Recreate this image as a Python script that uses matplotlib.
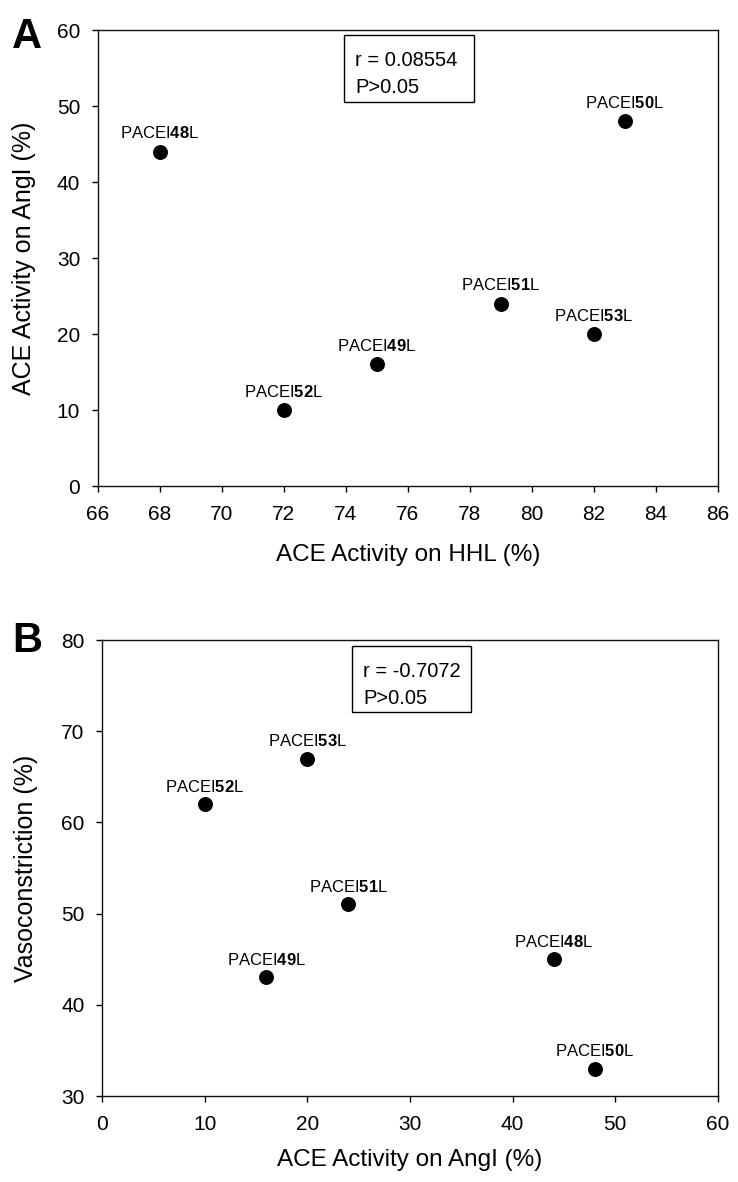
import matplotlib
matplotlib.use("Agg")
import matplotlib.pyplot as plt
from matplotlib.patches import Rectangle

plt.rcParams['font.family'] = ['Liberation Sans', 'DejaVu Sans']
plt.rcParams['mathtext.fontset'] = 'custom'
plt.rcParams['mathtext.rm'] = 'Liberation Sans'
plt.rcParams['mathtext.bf'] = 'Liberation Sans:bold'

peptides = ['48', '49', '50', '51', '52', '53']
hhl_activity = [68, 75, 83, 79, 72, 82]
angI_activity = [44, 16, 48, 24, 10, 20]
vasoconstriction = [45, 43, 33, 51, 62, 67]

stats_a = ["r = 0.08554", "P>0.05"]
stats_b = ["r = -0.7072", "P>0.05"]

W, H = 738, 1182
fig = plt.figure(figsize=(W / 100, H / 100), dpi=100)


def fx(px):
    return px / W


def fy(py):
    return 1 - py / H


def style(ax):
    for s in ax.spines.values():
        s.set_linewidth(1.0)
        s.set_color('#111111')
    ax.tick_params(direction='out', length=4.5, width=1, labelsize=15,
                   top=False, right=False)
    ax.tick_params(axis='x', pad=9)
    ax.tick_params(axis='y', pad=8)


def label_points(ax, xs, ys, off):
    for p, x, y in zip(peptides, xs, ys):
        ax.annotate(r'PACEI$\mathbf{%s}$L' % p, (x, y), xytext=(0, off),
                    textcoords='offset points', ha='center', va='baseline',
                    fontsize=12)


def stat_box(x0, y0, x1, y1, lines):
    fig.patches.append(Rectangle((fx(x0), fy(y1)), fx(x1) - fx(x0),
                                 fy(y0) - fy(y1), transform=fig.transFigure,
                                 fill=True, fc='white', ec='black', lw=1,
                                 zorder=5))
    for i, t in enumerate(lines):
        fig.text(fx(x0 + 11), fy(y0 + 31 + 27 * i), t, ha='left',
                 va='baseline', fontsize=14.5, zorder=6)


# Panel A
axA = fig.add_axes([fx(97.5), fy(486), fx(718) - fx(97.5), fy(30) - fy(486)])
axA.scatter(hhl_activity, angI_activity, s=95, color='black', zorder=3)
label_points(axA, hhl_activity, angI_activity, 9.5)
axA.set_xlim(66, 86)
axA.set_ylim(0, 60)
axA.set_xticks(range(66, 87, 2))
axA.set_yticks(range(0, 61, 10))
axA.set_xlabel('ACE Activity on HHL (%)', fontsize=17.5)
axA.set_ylabel('ACE Activity on AngI (%)', fontsize=18)
axA.xaxis.set_label_coords(0.5, -(544 - 486) / 456)
axA.yaxis.set_label_coords(-(97.5 - 24) / 620.5, 0.5)
axA.xaxis.label.set_va('top')
axA.yaxis.label.set_va('center')
style(axA)
stat_box(344, 35, 474, 102, stats_a)
fig.text(fx(12), fy(17), 'A', ha='left', va='top', fontsize=30,
         fontweight='bold')

# Panel B
axB = fig.add_axes([fx(102), fy(1096), fx(718) - fx(102), fy(640) - fy(1096)])
axB.scatter(angI_activity, vasoconstriction, s=95, color='black', zorder=3)
label_points(axB, angI_activity, vasoconstriction, 9)
axB.set_xlim(0, 60)
axB.set_ylim(30, 80)
axB.set_xticks(range(0, 61, 10))
axB.set_yticks(range(30, 81, 10))
axB.set_xlabel('ACE Activity on AngI (%)', fontsize=17.5)
axB.set_ylabel('Vasoconstriction (%)', fontsize=18)
axB.xaxis.set_label_coords(0.5, -(1149 - 1096) / 456)
axB.yaxis.set_label_coords(-(102 - 26) / 616, 0.5)
axB.xaxis.label.set_va('top')
axB.yaxis.label.set_va('center')
style(axB)
stat_box(352, 646, 471, 712, stats_b)
fig.text(fx(12), fy(621), 'B', ha='left', va='top', fontsize=30,
         fontweight='bold')

fig.savefig('out.png', dpi=100, facecolor='white')
